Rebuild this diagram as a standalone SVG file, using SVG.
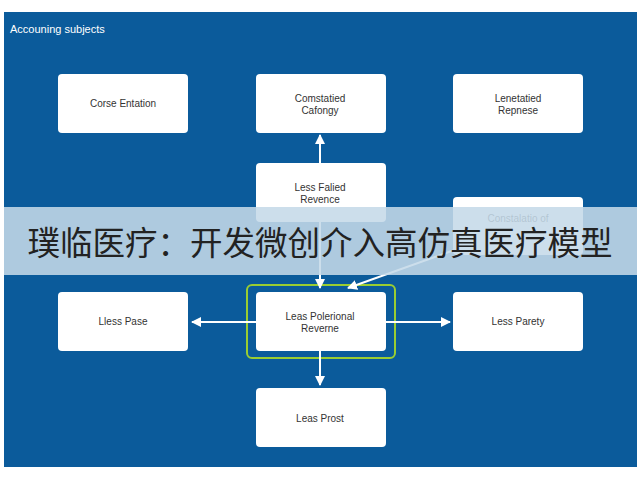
<svg xmlns="http://www.w3.org/2000/svg" width="640" height="480" viewBox="0 0 640 480">
<defs>
<style>
.box{fill:#fff;}
.t{font-family:"Liberation Sans",Arial,sans-serif;font-size:10px;fill:#333;text-anchor:middle;}
.c{stroke:#fff;stroke-width:2;fill:none;marker-end:url(#ah);}
</style>
<marker id="ah" viewBox="0 0 10 10" refX="9" refY="5" markerWidth="5" markerHeight="5" orient="auto"><path d="M0,0L10,5L0,10z" fill="#fff"/></marker>
</defs>
<rect width="640" height="480" fill="#fff"/>
<rect x="4" y="12" width="633" height="455" fill="#0b5b9b"/>
<text x="10" y="33" font-family="Liberation Sans,Arial,sans-serif" font-size="11" fill="#fff">Accouning subjects</text>
<g id="n1"><rect class="box" x="58" y="74" width="130" height="59" rx="4"/><text class="t" x="123" y="107">Corse Entation</text></g>
<g id="n2"><rect class="box" x="256" y="74" width="130" height="59" rx="4"/><text class="t" x="320" y="102">Comstatied</text><text class="t" x="320" y="114">Cafongy</text></g>
<g id="n3"><rect class="box" x="453" y="74" width="130" height="59" rx="4"/><text class="t" x="518" y="102">Lenetatied</text><text class="t" x="518" y="114">Repnese</text></g>
<g id="n4"><rect class="box" x="256" y="163" width="130" height="59" rx="4"/><text class="t" x="320" y="191">Less Falied</text><text class="t" x="320" y="203">Revence</text></g>
<g id="n5"><rect class="box" x="453" y="197" width="130" height="58" rx="4"/><text class="t" x="518" y="222">Constalatio of</text></g>
<g id="n6"><rect x="247" y="285" width="148" height="73" rx="5" fill="none" stroke="#9acd32" stroke-width="2"/><rect class="box" x="256" y="292" width="130" height="59" rx="4"/><text class="t" x="320" y="320">Leas Polerional</text><text class="t" x="320" y="332">Reverne</text></g>
<g id="n7"><rect class="box" x="58" y="292" width="130" height="59" rx="4"/><text class="t" x="123" y="325">Lless Pase</text></g>
<g id="n8"><rect class="box" x="453" y="292" width="130" height="59" rx="4"/><text class="t" x="518" y="325">Less Parety</text></g>
<g id="n9"><rect class="box" x="256" y="388" width="130" height="59" rx="4"/><text class="t" x="320" y="422">Leas Prost</text></g>
<g id="connectors">
<path class="c" d="M320,163V135"/>
<path class="c" d="M320,222V288"/>
<path class="c" d="M460,248L348,288"/>
<path class="c" d="M256,322H192"/>
<path class="c" d="M386,322H450"/>
<path class="c" d="M320,351V385"/>
</g>
<rect x="4" y="207" width="633" height="68" fill="#c5d9e8" fill-opacity="0.88"/>
<text x="320" y="255" font-family="Noto Sans CJK SC,sans-serif" font-size="32.5" fill="#222" text-anchor="middle">璞临医疗：开发微创介入高仿真医疗模型</text>
</svg>
